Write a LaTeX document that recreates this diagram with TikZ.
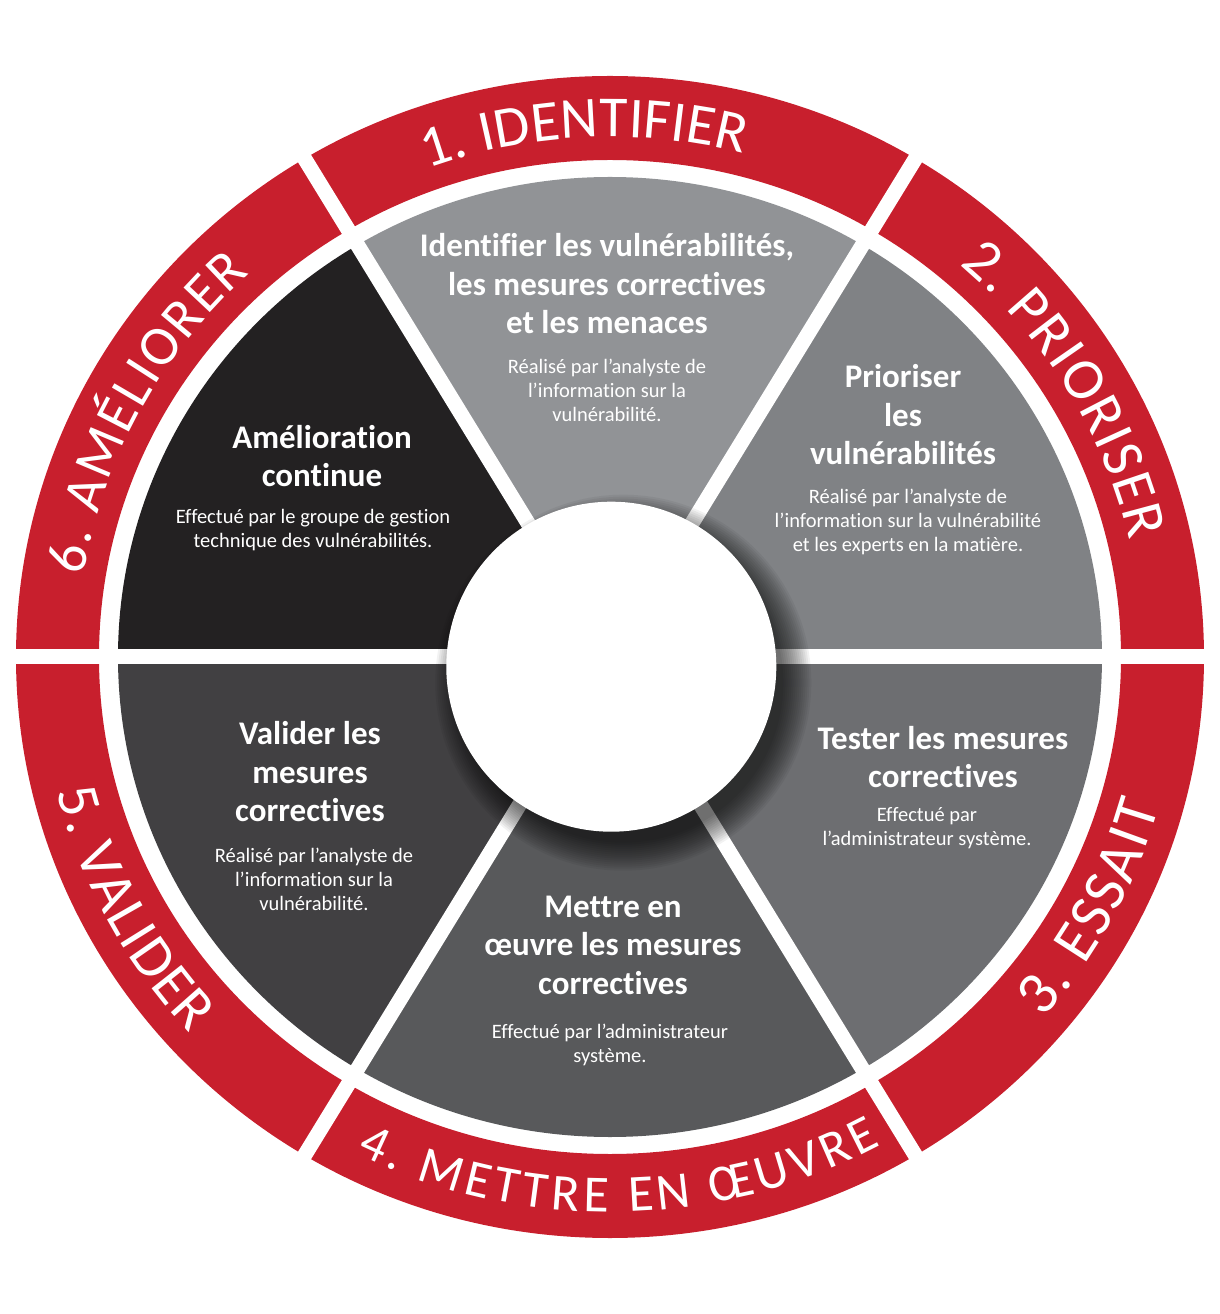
\documentclass[tikz,border=0pt]{standalone}
\usepackage{fontspec}
\setmainfont{Carlito}[Ligatures=NoCommon]
\usetikzlibrary{calc,decorations.text}
\definecolor{ringred}{RGB}{200, 31, 45}
\definecolor{identcolor}{RGB}{145, 147, 150}
\definecolor{priocolor}{RGB}{128, 130, 133}
\definecolor{testcolor}{RGB}{109, 110, 113}
\definecolor{implcolor}{RGB}{88, 89, 91}
\definecolor{validcolor}{RGB}{65, 64, 66}
\definecolor{improvecolor}{RGB}{35, 33, 34}
\newcommand\ringsize[1]{\fontsize{#1}{#1}\selectfont}

\begin{document}
\begin{tikzpicture}[x=1pt, y=1pt,
                slicehead/.style={align=center, text=white, font=\bfseries\fontsize{33}{38.5}\selectfont},
                slicedesc/.style={align=center, text=white, font=\fontsize{20.5}{24}\selectfont},
                gap/.style={white, line width=15pt},
                ringtext/.style={decorate, decoration={text along path, text align={fit to path}, text color=white, text={#1}}}]

                \useasboundingbox (-610,-657) rectangle (610,657);
                \coordinate (ctr) at (0,0);
                \coordinate (hub) at (1.3,-9.7);

                % Slices
                \begin{scope}
                    \clip (ctr) ellipse [x radius=492, y radius=480];
                    \foreach \a/\b/\c in {58.5/121.5/identcolor, 0/58.5/priocolor, -58.5/0/testcolor,
                                          -121.5/-58.5/implcolor, 180/238.5/validcolor, 121.5/180/improvecolor} {
                        \fill[\c] (ctr) -- (\a:800) -- (\b:800) -- cycle;
                    }
                \end{scope}

                % Ring
                \fill[ringred, even odd rule] (ctr) ellipse [x radius=594, y radius=581]
                                              (ctr) ellipse [x radius=511, y radius=497];

                % Gaps
                \foreach \a in {0,58.5,121.5,180,238.5,301.5} {
                    \draw[gap] (ctr) -- (\a:640);
                }

                % Hub
                \foreach \k in {0,...,14} {
                    \fill[black, opacity=0.05] ($(hub)+(12,-16)$) circle (160+2*\k);
                }
                \fill[white] (hub) circle (165);

                % Ring labels
                \path[ringtext={|\ringsize{58}|1. IDENTIFIER}] (110:533 and 520) arc[start angle=110, end angle=75.5, x radius=533, y radius=520];
                \path[ringtext={|\ringsize{59}|2. PRIORISER}] (49:533 and 520) arc[start angle=49, end angle=13, x radius=533, y radius=520];
                \path[ringtext={|\ringsize{61}|3. ESSAIT}] (-40.5:570 and 557) arc[start angle=-40.5, end angle=-15.5, x radius=570, y radius=557];
                \path[ringtext={|\ringsize{52}|4. METTRE EN ŒUVRE}] (-116.5:568 and 555) arc[start angle=-116.5, end angle=-61.5, x radius=568, y radius=555];
                \path[ringtext={|\ringsize{59}|5. VALIDER}] (194:570 and 557) arc[start angle=194, end angle=222.5, x radius=570, y radius=557];
                \path[ringtext={|\ringsize{56}|6. AMÉLIORER}] (171:533 and 520) arc[start angle=171, end angle=132.5, x radius=533, y radius=520];

                % Identify
                \node[slicehead] (ident-head) at (-3,373) {Identifier les vulnérabilités,\\les mesures correctives\\et les menaces};
                \node[slicedesc] (ident-desc) at (-3,267) {Réalisé par l’analyste de\\l’information sur la\\vulnérabilité.};

                % Prioritise
                \node[slicehead] (prio-head) at (293,242) {Prioriser\\les\\vulnérabilités};
                \node[slicedesc] (prio-desc) at (298,135) {Réalisé par l’analyste de\\l’information sur la vulnérabilité\\et les experts en la matière.};

                % Test
                \node[slicehead] (test-head) at (333,-100) {Tester les mesures\\correctives};
                \node[slicedesc] (test-desc) at (317,-171) {Effectué par\\l’administrateur système.};

                % Implement
                \node[slicehead] (impl-head) at (3,-288) {Mettre en\\œuvre les mesures\\correctives};
                \node[slicedesc] (impl-desc) at (0,-388) {Effectué par l’administrateur\\système.};

                % Validate
                \node[slicehead] (valid-head) at (-300,-115) {Valider les\\mesures\\correctives};
                \node[slicedesc] (valid-desc) at (-296,-222) {Réalisé par l’analyste de\\l’information sur la\\vulnérabilité.};

                % Improve
                \node[slicehead] (improve-head) at (-288,201) {Amélioration\\continue};
                \node[slicedesc] (improve-desc) at (-297,127) {Effectué par le groupe de gestion\\technique des vulnérabilités.};

            \end{tikzpicture}
\end{document}
